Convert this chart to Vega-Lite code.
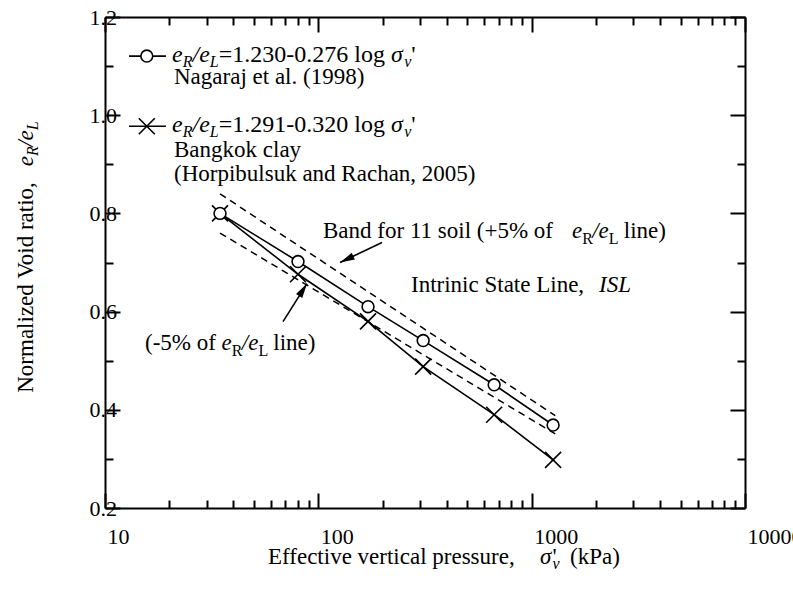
{
  "$schema": "https://vega.github.io/schema/vega-lite/v6.json",
  "width": 640,
  "height": 491,
  "autosize": {"type": "none"},
  "padding": {"left": 105, "top": 17, "right": 48, "bottom": 84},
  "background": "white",
  "config": {"view": {"stroke": null}},
  "datasets": {
    "series": [
      {"s": "N", "x": 34.6, "y": 0.8},
      {"s": "N", "x": 80.3, "y": 0.702},
      {"s": "N", "x": 171, "y": 0.61},
      {"s": "N", "x": 310, "y": 0.541},
      {"s": "N", "x": 667, "y": 0.451},
      {"s": "N", "x": 1260, "y": 0.369},
      {"s": "H", "x": 34.6, "y": 0.8},
      {"s": "H", "x": 80.3, "y": 0.676},
      {"s": "H", "x": 171, "y": 0.58},
      {"s": "H", "x": 310, "y": 0.488},
      {"s": "H", "x": 667, "y": 0.39},
      {"s": "H", "x": 1260, "y": 0.298}
    ],
    "band": [
      {"b": "up", "x": 34.6, "y": 0.84},
      {"b": "up", "x": 1290, "y": 0.388},
      {"b": "lo", "x": 34.6, "y": 0.76},
      {"b": "lo", "x": 1290, "y": 0.351}
    ],
    "legend": [
      {"s": "N", "x1": 12.96, "x2": 19.3, "xm": 15.7, "y": 1.1204},
      {"s": "H", "x1": 12.96, "x2": 19.3, "xm": 15.7, "y": 0.9776}
    ],
    "arrows": [
      {"id": 1, "x": 198.8, "y": 0.7408, "x2": 126.4, "y2": 0.7},
      {"id": 2, "x": 68.3, "y": 0.5796, "x2": 88.5, "y2": 0.6571}
    ],
    "reg": [
      {"t": "Nagaraj et al. (1998)", "x": 21.06, "y": 1.0633},
      {"t": "Bangkok clay", "x": 21.06, "y": 0.9143},
      {"t": "(Horpibulsuk and Rachan, 2005)", "x": 21.06, "y": 0.8653},
      {"t": "Band for 11 soil (+5% of", "x": 105.2, "y": 0.749},
      {"t": "line)", "x": 2702, "y": 0.749},
      {"t": "Intrinic State Line,", "x": 271.9, "y": 0.6408},
      {"t": "(-5% of", "x": 15.4, "y": 0.5224},
      {"t": "line)", "x": 61.53, "y": 0.5224},
      {"t": "Effective vertical pressure,", "x": 58.08, "y": 0.0857},
      {"t": "'", "x": 1253.6, "y": 0.0857},
      {"t": "(kPa)", "x": 1512, "y": 0.0857}
    ],
    "reg24": [
      {"t": "=1.230-0.276 log", "x": 34.12, "y": 1.1082},
      {"t": "'", "x": 272.8, "y": 1.1082},
      {"t": "=1.291-0.320 log", "x": 34.12, "y": 0.9653},
      {"t": "'", "x": 272.8, "y": 0.9653}
    ],
    "ital24": [
      {"t": "e", "x": 20.61, "y": 1.1082},
      {"t": "/e", "x": 25.71, "y": 1.1082},
      {"t": "σ", "x": 219.1, "y": 1.1082},
      {"t": "e", "x": 20.61, "y": 0.9653},
      {"t": "/e", "x": 25.71, "y": 0.9653},
      {"t": "σ", "x": 219.1, "y": 0.9653}
    ],
    "ital": [
      {"t": "e", "x": 1546, "y": 0.749},
      {"t": "/e", "x": 1922, "y": 0.749},
      {"t": "ISL", "x": 2068, "y": 0.6408},
      {"t": "e", "x": 35.2, "y": 0.5224},
      {"t": "/e", "x": 43.78, "y": 0.5224},
      {"t": "σ", "x": 1094, "y": 0.0857}
    ],
    "subit": [
      {"t": "R", "x": 23.13, "y": 1.1082},
      {"t": "L", "x": 30.99, "y": 1.1082},
      {"t": "v", "x": 252.6, "y": 1.1082},
      {"t": "R", "x": 23.13, "y": 0.9653},
      {"t": "L", "x": 30.99, "y": 0.9653},
      {"t": "v", "x": 252.6, "y": 0.9653},
      {"t": "v", "x": 1253.6, "y": 0.0857}
    ],
    "subup": [
      {"t": "R", "x": 1726, "y": 0.749},
      {"t": "L", "x": 2299, "y": 0.749},
      {"t": "R", "x": 39.3, "y": 0.5224},
      {"t": "L", "x": 52.38, "y": 0.5224}
    ],
    "rotreg": [
      {"t": "Normalized Void ratio,", "x": 4.597, "y": 0.4347}
    ],
    "rotit": [
      {"t": "e", "x": 4.597, "y": 0.8959},
      {"t": "/e", "x": 4.597, "y": 0.9355}
    ],
    "rotsub": [
      {"t": "R", "x": 4.597, "y": 0.9167},
      {"t": "L", "x": 4.597, "y": 0.9694}
    ]
  },
  "resolve": {"axis": {"x": "independent", "y": "independent"}},
  "layer": [
    {
      "data": {"name": "band"},
      "mark": {"type": "line", "color": "black", "strokeWidth": 1.5, "strokeDash": [7, 5]},
      "encoding": {
        "x": {"field": "x", "type": "quantitative", "scale": {"type": "log", "domain": [10, 10000], "nice": false},
          "axis": {"orient": "top", "values": [10,20,30,40,50,60,70,80,90,100,200,300,400,500,600,700,800,900,1000,2000,3000,4000,5000,6000,7000,8000,9000,10000],
            "title": null, "grid": false, "labels": false, "domainColor": "black", "domainWidth": 2, "tickColor": "black", "tickWidth": 2,
            "tickSize": {"condition": {"test": "indexof([10,100,1000,10000], datum.value) >= 0", "value": -15}, "value": -8}}},
        "y": {"field": "y", "type": "quantitative", "scale": {"domain": [0.2, 1.2], "nice": false, "zero": false},
          "axis": {"orient": "right", "values": [0.2,0.3,0.4,0.5,0.6,0.7,0.8,0.9,1.0,1.1,1.2],
            "title": null, "grid": false, "labels": false, "domainColor": "black", "domainWidth": 2, "tickColor": "black", "tickWidth": 2,
            "tickSize": {"condition": {"test": "round(datum.value*10) % 2 == 0", "value": -15}, "value": -8}}},
        "detail": {"field": "b"}
      }
    },
    {
      "data": {"name": "series"},
      "mark": {"type": "line", "color": "black", "strokeWidth": 1.6},
      "encoding": {
        "x": {"field": "x", "type": "quantitative", "scale": {"type": "log", "domain": [10, 10000], "nice": false},
          "axis": {"orient": "bottom", "values": [10,20,30,40,50,60,70,80,90,100,200,300,400,500,600,700,800,900,1000,2000,3000,4000,5000,6000,7000,8000,9000,10000],
            "title": null, "grid": false, "domainColor": "black", "domainWidth": 2, "tickColor": "black", "tickWidth": 2,
            "tickSize": {"condition": {"test": "indexof([10,100,1000,10000], datum.value) >= 0", "value": -15}, "value": -8},
            "labelExpr": "indexof([10,100,1000,10000], datum.value) >= 0 ? format(datum.value, 'd') : ''",
            "labelFont": "Liberation Serif", "labelFontSize": 22, "labelColor": "black", "labelAlign": "left", "labelBaseline": "alphabetic",
            "labelPadding": 50, "labelOffset": 2, "labelFlush": false, "labelOverlap": false, "labelBound": false}},
        "y": {"field": "y", "type": "quantitative", "scale": {"domain": [0.2, 1.2], "nice": false, "zero": false},
          "axis": {"orient": "left", "values": [0.2,0.3,0.4,0.5,0.6,0.7,0.8,0.9,1.0,1.1,1.2],
            "title": null, "grid": false, "domainColor": "black", "domainWidth": 2, "tickColor": "black", "tickWidth": 2,
            "tickSize": {"condition": {"test": "round(datum.value*10) % 2 == 0", "value": -15}, "value": -8},
            "labelExpr": "round(datum.value*10) % 2 == 0 ? format(datum.value, '.1f') : ''",
            "labelFont": "Liberation Serif", "labelFontSize": 22, "labelColor": "black", "labelAlign": "left", "labelBaseline": "middle",
            "labelPadding": 31, "labelFlush": false, "labelOverlap": false, "labelBound": false}},
        "detail": {"field": "s"}
      }
    },
    {
      "data": {"name": "legend"},
      "mark": {"type": "rule", "color": "black", "strokeWidth": 1.6},
      "encoding": {
        "x": {"field": "x1", "type": "quantitative", "scale": {"type": "log", "domain": [10, 10000], "nice": false}, "axis": null},
        "x2": {"field": "x2"},
        "y": {"field": "y", "type": "quantitative", "scale": {"domain": [0.2, 1.2], "nice": false, "zero": false}, "axis": null}
      }
    },
    {
      "data": {"name": "arrows"},
      "mark": {"type": "rule", "color": "black", "strokeWidth": 1.6},
      "encoding": {
        "x": {"field": "x", "type": "quantitative", "scale": {"type": "log", "domain": [10, 10000], "nice": false}, "axis": null},
        "x2": {"field": "x2"},
        "y": {"field": "y", "type": "quantitative", "scale": {"domain": [0.2, 1.2], "nice": false, "zero": false}, "axis": null},
        "y2": {"field": "y2"}
      }
    },
    {
      "data": {"name": "arrows"},
      "transform": [{"filter": "datum.id == 1"}],
      "mark": {"type": "point", "shape": "M0,0L0.6,2.4L-0.6,2.4Z", "filled": true, "fill": "black", "strokeWidth": 0, "opacity": 1, "size": 150, "angle": 244.5},
      "encoding": {
        "x": {"field": "x2", "type": "quantitative", "scale": {"type": "log", "domain": [10, 10000], "nice": false}, "axis": null},
        "y": {"field": "y2", "type": "quantitative", "scale": {"domain": [0.2, 1.2], "nice": false, "zero": false}, "axis": null}
      }
    },
    {
      "data": {"name": "arrows"},
      "transform": [{"filter": "datum.id == 2"}],
      "mark": {"type": "point", "shape": "M0,0L0.6,2.4L-0.6,2.4Z", "filled": true, "fill": "black", "strokeWidth": 0, "opacity": 1, "size": 150, "angle": 32.3},
      "encoding": {
        "x": {"field": "x2", "type": "quantitative", "scale": {"type": "log", "domain": [10, 10000], "nice": false}, "axis": null},
        "y": {"field": "y2", "type": "quantitative", "scale": {"domain": [0.2, 1.2], "nice": false, "zero": false}, "axis": null}
      }
    },
    {
      "data": {"name": "series"},
      "transform": [{"filter": "datum.s == 'H'"}],
      "mark": {"type": "point", "shape": "M-1,-1L1,1M-1,1L1,-1", "filled": false, "stroke": "black", "strokeWidth": 1.6, "opacity": 1, "size": 256},
      "encoding": {
        "x": {"field": "x", "type": "quantitative", "scale": {"type": "log", "domain": [10, 10000], "nice": false}, "axis": null},
        "y": {"field": "y", "type": "quantitative", "scale": {"domain": [0.2, 1.2], "nice": false, "zero": false}, "axis": null}
      }
    },
    {
      "data": {"name": "series"},
      "transform": [{"filter": "datum.s == 'N'"}],
      "mark": {"type": "point", "shape": "circle", "filled": true, "fill": "white", "stroke": "black", "strokeWidth": 1.6, "opacity": 1, "fillOpacity": 1, "size": 140},
      "encoding": {
        "x": {"field": "x", "type": "quantitative", "scale": {"type": "log", "domain": [10, 10000], "nice": false}, "axis": null},
        "y": {"field": "y", "type": "quantitative", "scale": {"domain": [0.2, 1.2], "nice": false, "zero": false}, "axis": null}
      }
    },
    {
      "data": {"name": "legend"},
      "transform": [{"filter": "datum.s == 'H'"}],
      "mark": {"type": "point", "shape": "M-1,-1L1,1M-1,1L1,-1", "filled": false, "stroke": "black", "strokeWidth": 1.6, "opacity": 1, "size": 256},
      "encoding": {
        "x": {"field": "xm", "type": "quantitative", "scale": {"type": "log", "domain": [10, 10000], "nice": false}, "axis": null},
        "y": {"field": "y", "type": "quantitative", "scale": {"domain": [0.2, 1.2], "nice": false, "zero": false}, "axis": null}
      }
    },
    {
      "data": {"name": "legend"},
      "transform": [{"filter": "datum.s == 'N'"}],
      "mark": {"type": "point", "shape": "circle", "filled": true, "fill": "white", "stroke": "black", "strokeWidth": 1.6, "opacity": 1, "fillOpacity": 1, "size": 140},
      "encoding": {
        "x": {"field": "xm", "type": "quantitative", "scale": {"type": "log", "domain": [10, 10000], "nice": false}, "axis": null},
        "y": {"field": "y", "type": "quantitative", "scale": {"domain": [0.2, 1.2], "nice": false, "zero": false}, "axis": null}
      }
    },
    {
      "data": {"name": "reg"},
      "mark": {"type": "text", "font": "Liberation Serif", "fontSize": 23, "color": "black", "align": "left", "baseline": "alphabetic"},
      "encoding": {
        "x": {"field": "x", "type": "quantitative", "scale": {"type": "log", "domain": [10, 10000], "nice": false}, "axis": null},
        "y": {"field": "y", "type": "quantitative", "scale": {"domain": [0.2, 1.2], "nice": false, "zero": false}, "axis": null},
        "text": {"field": "t"}
      }
    },
    {
      "data": {"name": "reg24"},
      "mark": {"type": "text", "font": "Liberation Serif", "fontSize": 24, "color": "black", "align": "left", "baseline": "alphabetic"},
      "encoding": {
        "x": {"field": "x", "type": "quantitative", "scale": {"type": "log", "domain": [10, 10000], "nice": false}, "axis": null},
        "y": {"field": "y", "type": "quantitative", "scale": {"domain": [0.2, 1.2], "nice": false, "zero": false}, "axis": null},
        "text": {"field": "t"}
      }
    },
    {
      "data": {"name": "ital24"},
      "mark": {"type": "text", "font": "Liberation Serif", "fontSize": 24, "fontStyle": "italic", "color": "black", "align": "left", "baseline": "alphabetic"},
      "encoding": {
        "x": {"field": "x", "type": "quantitative", "scale": {"type": "log", "domain": [10, 10000], "nice": false}, "axis": null},
        "y": {"field": "y", "type": "quantitative", "scale": {"domain": [0.2, 1.2], "nice": false, "zero": false}, "axis": null},
        "text": {"field": "t"}
      }
    },
    {
      "data": {"name": "ital"},
      "mark": {"type": "text", "font": "Liberation Serif", "fontSize": 23, "fontStyle": "italic", "color": "black", "align": "left", "baseline": "alphabetic"},
      "encoding": {
        "x": {"field": "x", "type": "quantitative", "scale": {"type": "log", "domain": [10, 10000], "nice": false}, "axis": null},
        "y": {"field": "y", "type": "quantitative", "scale": {"domain": [0.2, 1.2], "nice": false, "zero": false}, "axis": null},
        "text": {"field": "t"}
      }
    },
    {
      "data": {"name": "subit"},
      "mark": {"type": "text", "font": "Liberation Serif", "fontSize": 16, "fontStyle": "italic", "color": "black", "align": "left", "baseline": "alphabetic", "dy": 5},
      "encoding": {
        "x": {"field": "x", "type": "quantitative", "scale": {"type": "log", "domain": [10, 10000], "nice": false}, "axis": null},
        "y": {"field": "y", "type": "quantitative", "scale": {"domain": [0.2, 1.2], "nice": false, "zero": false}, "axis": null},
        "text": {"field": "t"}
      }
    },
    {
      "data": {"name": "subup"},
      "mark": {"type": "text", "font": "Liberation Serif", "fontSize": 16, "color": "black", "align": "left", "baseline": "alphabetic", "dy": 6},
      "encoding": {
        "x": {"field": "x", "type": "quantitative", "scale": {"type": "log", "domain": [10, 10000], "nice": false}, "axis": null},
        "y": {"field": "y", "type": "quantitative", "scale": {"domain": [0.2, 1.2], "nice": false, "zero": false}, "axis": null},
        "text": {"field": "t"}
      }
    },
    {
      "data": {"name": "rotreg"},
      "mark": {"type": "text", "font": "Liberation Serif", "fontSize": 23, "color": "black", "align": "left", "baseline": "alphabetic", "angle": 270},
      "encoding": {
        "x": {"field": "x", "type": "quantitative", "scale": {"type": "log", "domain": [10, 10000], "nice": false}, "axis": null},
        "y": {"field": "y", "type": "quantitative", "scale": {"domain": [0.2, 1.2], "nice": false, "zero": false}, "axis": null},
        "text": {"field": "t"}
      }
    },
    {
      "data": {"name": "rotit"},
      "mark": {"type": "text", "font": "Liberation Serif", "fontSize": 23, "fontStyle": "italic", "color": "black", "align": "left", "baseline": "alphabetic", "angle": 270},
      "encoding": {
        "x": {"field": "x", "type": "quantitative", "scale": {"type": "log", "domain": [10, 10000], "nice": false}, "axis": null},
        "y": {"field": "y", "type": "quantitative", "scale": {"domain": [0.2, 1.2], "nice": false, "zero": false}, "axis": null},
        "text": {"field": "t"}
      }
    },
    {
      "data": {"name": "rotsub"},
      "mark": {"type": "text", "font": "Liberation Serif", "fontSize": 16, "fontStyle": "italic", "color": "black", "align": "left", "baseline": "alphabetic", "angle": 270, "dy": 5},
      "encoding": {
        "x": {"field": "x", "type": "quantitative", "scale": {"type": "log", "domain": [10, 10000], "nice": false}, "axis": null},
        "y": {"field": "y", "type": "quantitative", "scale": {"domain": [0.2, 1.2], "nice": false, "zero": false}, "axis": null},
        "text": {"field": "t"}
      }
    }
  ]
}
